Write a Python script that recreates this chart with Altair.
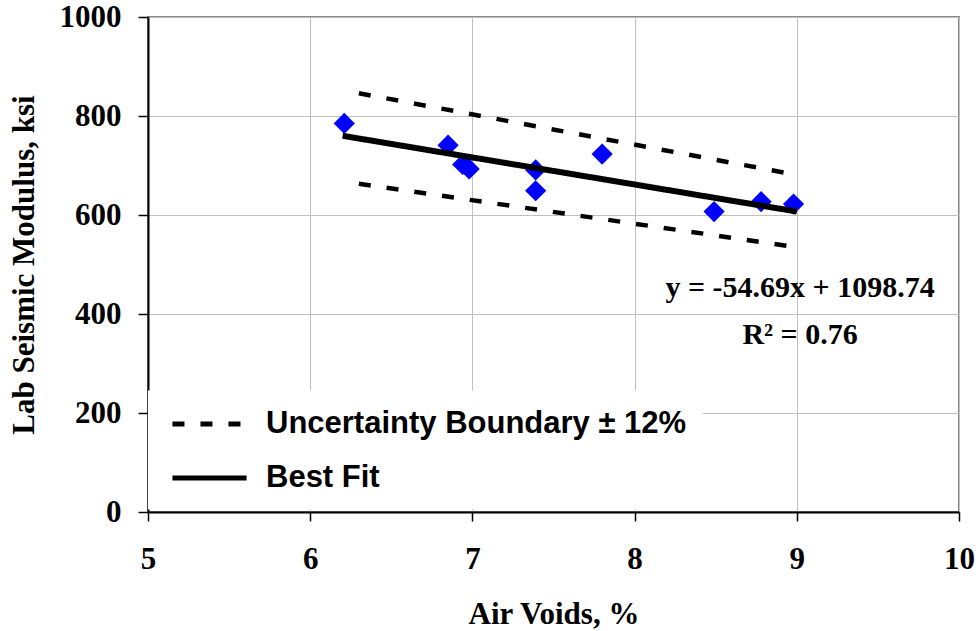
import altair as alt
import pandas as pd

# Data points
air_voids = [6.21, 6.85, 6.94, 6.98, 7.39, 7.39, 7.80, 8.49, 8.78, 8.98]
modulus = [785, 741, 702, 693, 691, 649, 723, 607, 627, 622]

# Best fit line end points
fit_x = [6.2, 9.0]
fit_y = [760, 607]

# Uncertainty boundary end points
bound_x = [6.3, 9.0]
upper_y = [846, 681]
lower_y = [663, 535]

series_names = ["Uncertainty Boundary ± 12%", "Best Fit"]
x_ticks = [5, 6, 7, 8, 9, 10]
y_ticks = [0, 200, 400, 600, 800, 1000]

equation_lines = ["y = -54.69x + 1098.74", "R² = 0.76"]
equation_x = [9.02, 9.02]
equation_y = [434, 339]

pts = pd.DataFrame({"x": air_voids, "y": modulus})
fit = pd.DataFrame({"x": fit_x, "y": fit_y, "series": series_names[1], "part": "fit"})
bounds = pd.concat([
    pd.DataFrame({"x": bound_x, "y": upper_y, "series": series_names[0], "part": "upper"}),
    pd.DataFrame({"x": bound_x, "y": lower_y, "series": series_names[0], "part": "lower"}),
])
eq = pd.DataFrame({"x": equation_x, "y": equation_y, "t": equation_lines})

X = alt.X("x:Q", scale=alt.Scale(domain=[5, 10], nice=False, zero=False),
          axis=alt.Axis(values=x_ticks, title="Air Voids, %", tickSize=9, format="d",
                        labelBaseline="alphabetic", labelPadding=47, labelFlush=False,
                        labelOverlap=False, titleBaseline="alphabetic", titleY=111))
Y = alt.Y("y:Q", scale=alt.Scale(domain=[0, 1000], nice=False),
          axis=alt.Axis(values=y_ticks, title="Lab Seismic Modulus, ksi", tickSize=10,
                        format="d", labelPadding=17, labelOverlap=False, titleAngle=270,
                        titleBaseline="alphabetic", titleX=-115, titleY=247.5))

dash = alt.StrokeDash(
    "series:N",
    scale=alt.Scale(domain=series_names, range=[[12, 16], [1, 0]]),
    legend=alt.Legend(title=None, orient="none", legendX=0, legendY=373.5,
                      fillColor="white", padding=16, symbolType="M-2.47,0H2.47",
                      symbolSize=900, symbolStrokeWidth=5, symbolStrokeColor="black",
                      labelFont="Liberation Sans", labelFontSize=31,
                      labelFontWeight="bold", labelColor="black", labelOffset=39,
                      labelLimit=800, rowPadding=21, symbolOffset=28),
)

points = alt.Chart(pts).mark_point(shape="diamond", filled=True, color="#0000FF",
                                   size=450, opacity=1).encode(x=X, y=Y)
bound_lines = alt.Chart(bounds).mark_line(color="black", strokeWidth=4.5).encode(
    x=X, y=Y, detail="part:N", strokeDash=dash)
fit_line = alt.Chart(fit).mark_line(color="black", strokeWidth=6).encode(
    x=X, y=Y, strokeDash=dash)
eq_text = alt.Chart(eq).mark_text(font="Liberation Serif", fontSize=30, fontWeight="bold",
                                  color="black", align="center",
                                  baseline="alphabetic").encode(x=X, y=Y, text="t:N")

chart = alt.layer(points, bound_lines, fit_line, eq_text).properties(
    width=811, height=495,
    padding={"left": 148, "top": 17, "right": 20, "bottom": 119},
    autosize=alt.AutoSizeParams(type="none"),
).configure_view(stroke="#888888", strokeWidth=2).configure_axis(
    labelFont="Liberation Serif", labelFontSize=31, labelFontWeight="bold", labelColor="black",
    titleFont="Liberation Serif", titleFontSize=31, titleFontWeight="bold", titleColor="black",
    gridColor="#c0c0c0", gridWidth=1, domainColor="black", domainWidth=2,
    tickColor="black", tickWidth=1.5,
)

chart.save("out.html", embed_options={"renderer": "svg", "actions": False})
